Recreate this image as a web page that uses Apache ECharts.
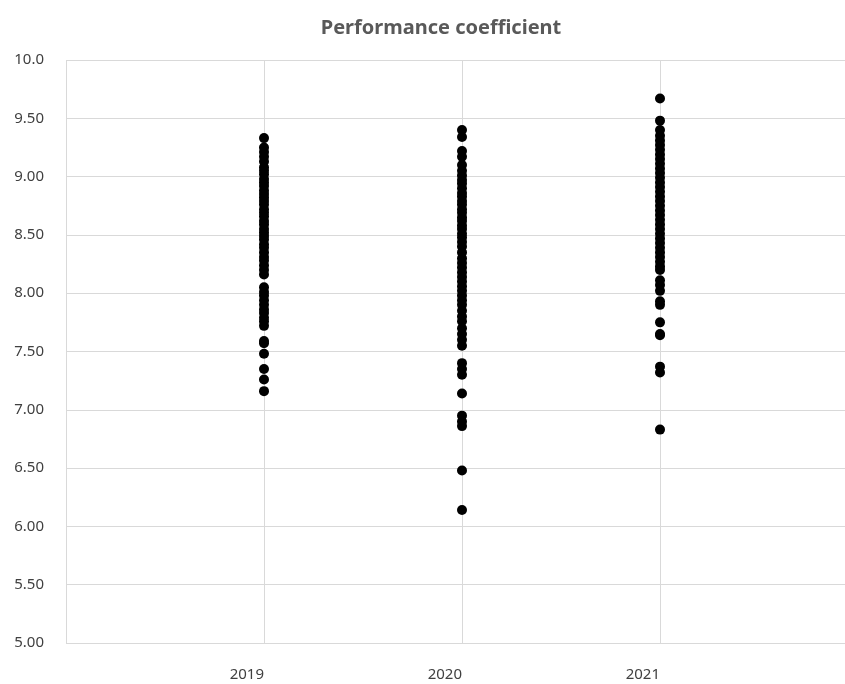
<!DOCTYPE html>
<html>
<head>
<meta charset="utf-8">
<script src="https://cdn.jsdelivr.net/npm/echarts@6/dist/echarts.min.js"></script>
<style>
  html, body { margin: 0; padding: 0; background: #fff; }
  #chart { width: 845px; height: 684px; }
</style>
</head>
<body>
<div id="chart"></div>
<script>
const years = [2019, 2020, 2021];

const values2019 = [9.33, 9.25, 9.21, 9.17, 9.13, 9.08, 9.05, 9.02, 8.98, 8.95, 8.92, 8.88, 8.85, 8.82,
  8.79, 8.76, 8.72, 8.69, 8.66, 8.62, 8.59, 8.55, 8.52, 8.49, 8.46, 8.42, 8.39, 8.35, 8.31, 8.28,
  8.24, 8.20, 8.16, 8.05, 8.01, 7.98, 7.94, 7.90, 7.86, 7.83, 7.79, 7.76, 7.72, 7.59, 7.57, 7.48,
  7.35, 7.26, 7.16];

const values2020 = [9.40, 9.34, 9.22, 9.17, 9.10, 9.05, 9.01, 8.97, 8.94, 8.90, 8.86, 8.83, 8.79,
  8.76, 8.72, 8.69, 8.65, 8.62, 8.58, 8.55, 8.51, 8.48, 8.44, 8.40, 8.35, 8.30, 8.26, 8.22, 8.18,
  8.14, 8.10, 8.06, 8.02, 7.98, 7.94, 7.90, 7.85, 7.80, 7.76, 7.70, 7.65, 7.60, 7.55, 7.40, 7.35,
  7.30, 7.14, 6.95, 6.90, 6.86, 6.48, 6.14];

const values2021 = [9.67, 9.48, 9.40, 9.35, 9.31, 9.27, 9.23, 9.19, 9.15, 9.11, 9.07, 9.03, 8.99,
  8.95, 8.91, 8.87, 8.83, 8.79, 8.75, 8.71, 8.67, 8.63, 8.59, 8.55, 8.51, 8.47, 8.43, 8.39, 8.35,
  8.31, 8.27, 8.23, 8.20, 8.11, 8.07, 8.02, 7.93, 7.90, 7.75, 7.65, 7.64, 7.37, 7.32, 6.83];

const yTicks = [5, 5.5, 6, 6.5, 7, 7.5, 8, 8.5, 9, 9.5, 10];

const allValues = [values2019, values2020, values2021];
const points = [];
allValues.forEach((list, i) => {
  list.forEach((v) => points.push([years[i], v]));
});

const chart = echarts.init(document.getElementById('chart'));
chart.setOption({
  animation: false,
  title: {
    text: 'Performance coefficient',
    left: 436,
    textAlign: 'center',
    top: 13,
    textStyle: {
      fontFamily: '"Noto Sans"',
      fontSize: 20,
      fontWeight: 'bold',
      color: '#595959',
    },
  },
  grid: {
    left: 66,
    width: 792,
    top: 60,
    height: 583,
    outerBoundsMode: 'none',
  },
  xAxis: {
    type: 'value',
    min: 2018,
    max: 2022,
    interval: 1,
    axisLine: { show: false },
    axisTick: { show: false },
    splitLine: { show: true, lineStyle: { color: '#d9d9d9', width: 1 } },
    axisLabel: {
      margin: 24,
      align: 'right',
      fontFamily: '"Noto Sans"',
      fontSize: 15,
      color: '#404040',
      formatter: (v) => (years.includes(v) ? String(v) : ''),
    },
  },
  yAxis: {
    type: 'value',
    min: yTicks[0],
    max: yTicks[yTicks.length - 1],
    interval: 0.5,
    axisLine: { show: false },
    axisTick: { show: false },
    splitLine: { show: true, lineStyle: { color: '#d9d9d9', width: 1 } },
    axisLabel: {
      margin: 22,
      fontFamily: '"Noto Sans"',
      fontSize: 15,
      color: '#404040',
      formatter: (v) => (v === 10 ? '10.0' : v.toFixed(2)),
    },
  },
  series: [
    {
      type: 'scatter',
      data: points,
      symbol: 'circle',
      symbolSize: 10,
      itemStyle: { color: '#000', opacity: 1 },
    },
  ],
});
</script>
</body>
</html>
